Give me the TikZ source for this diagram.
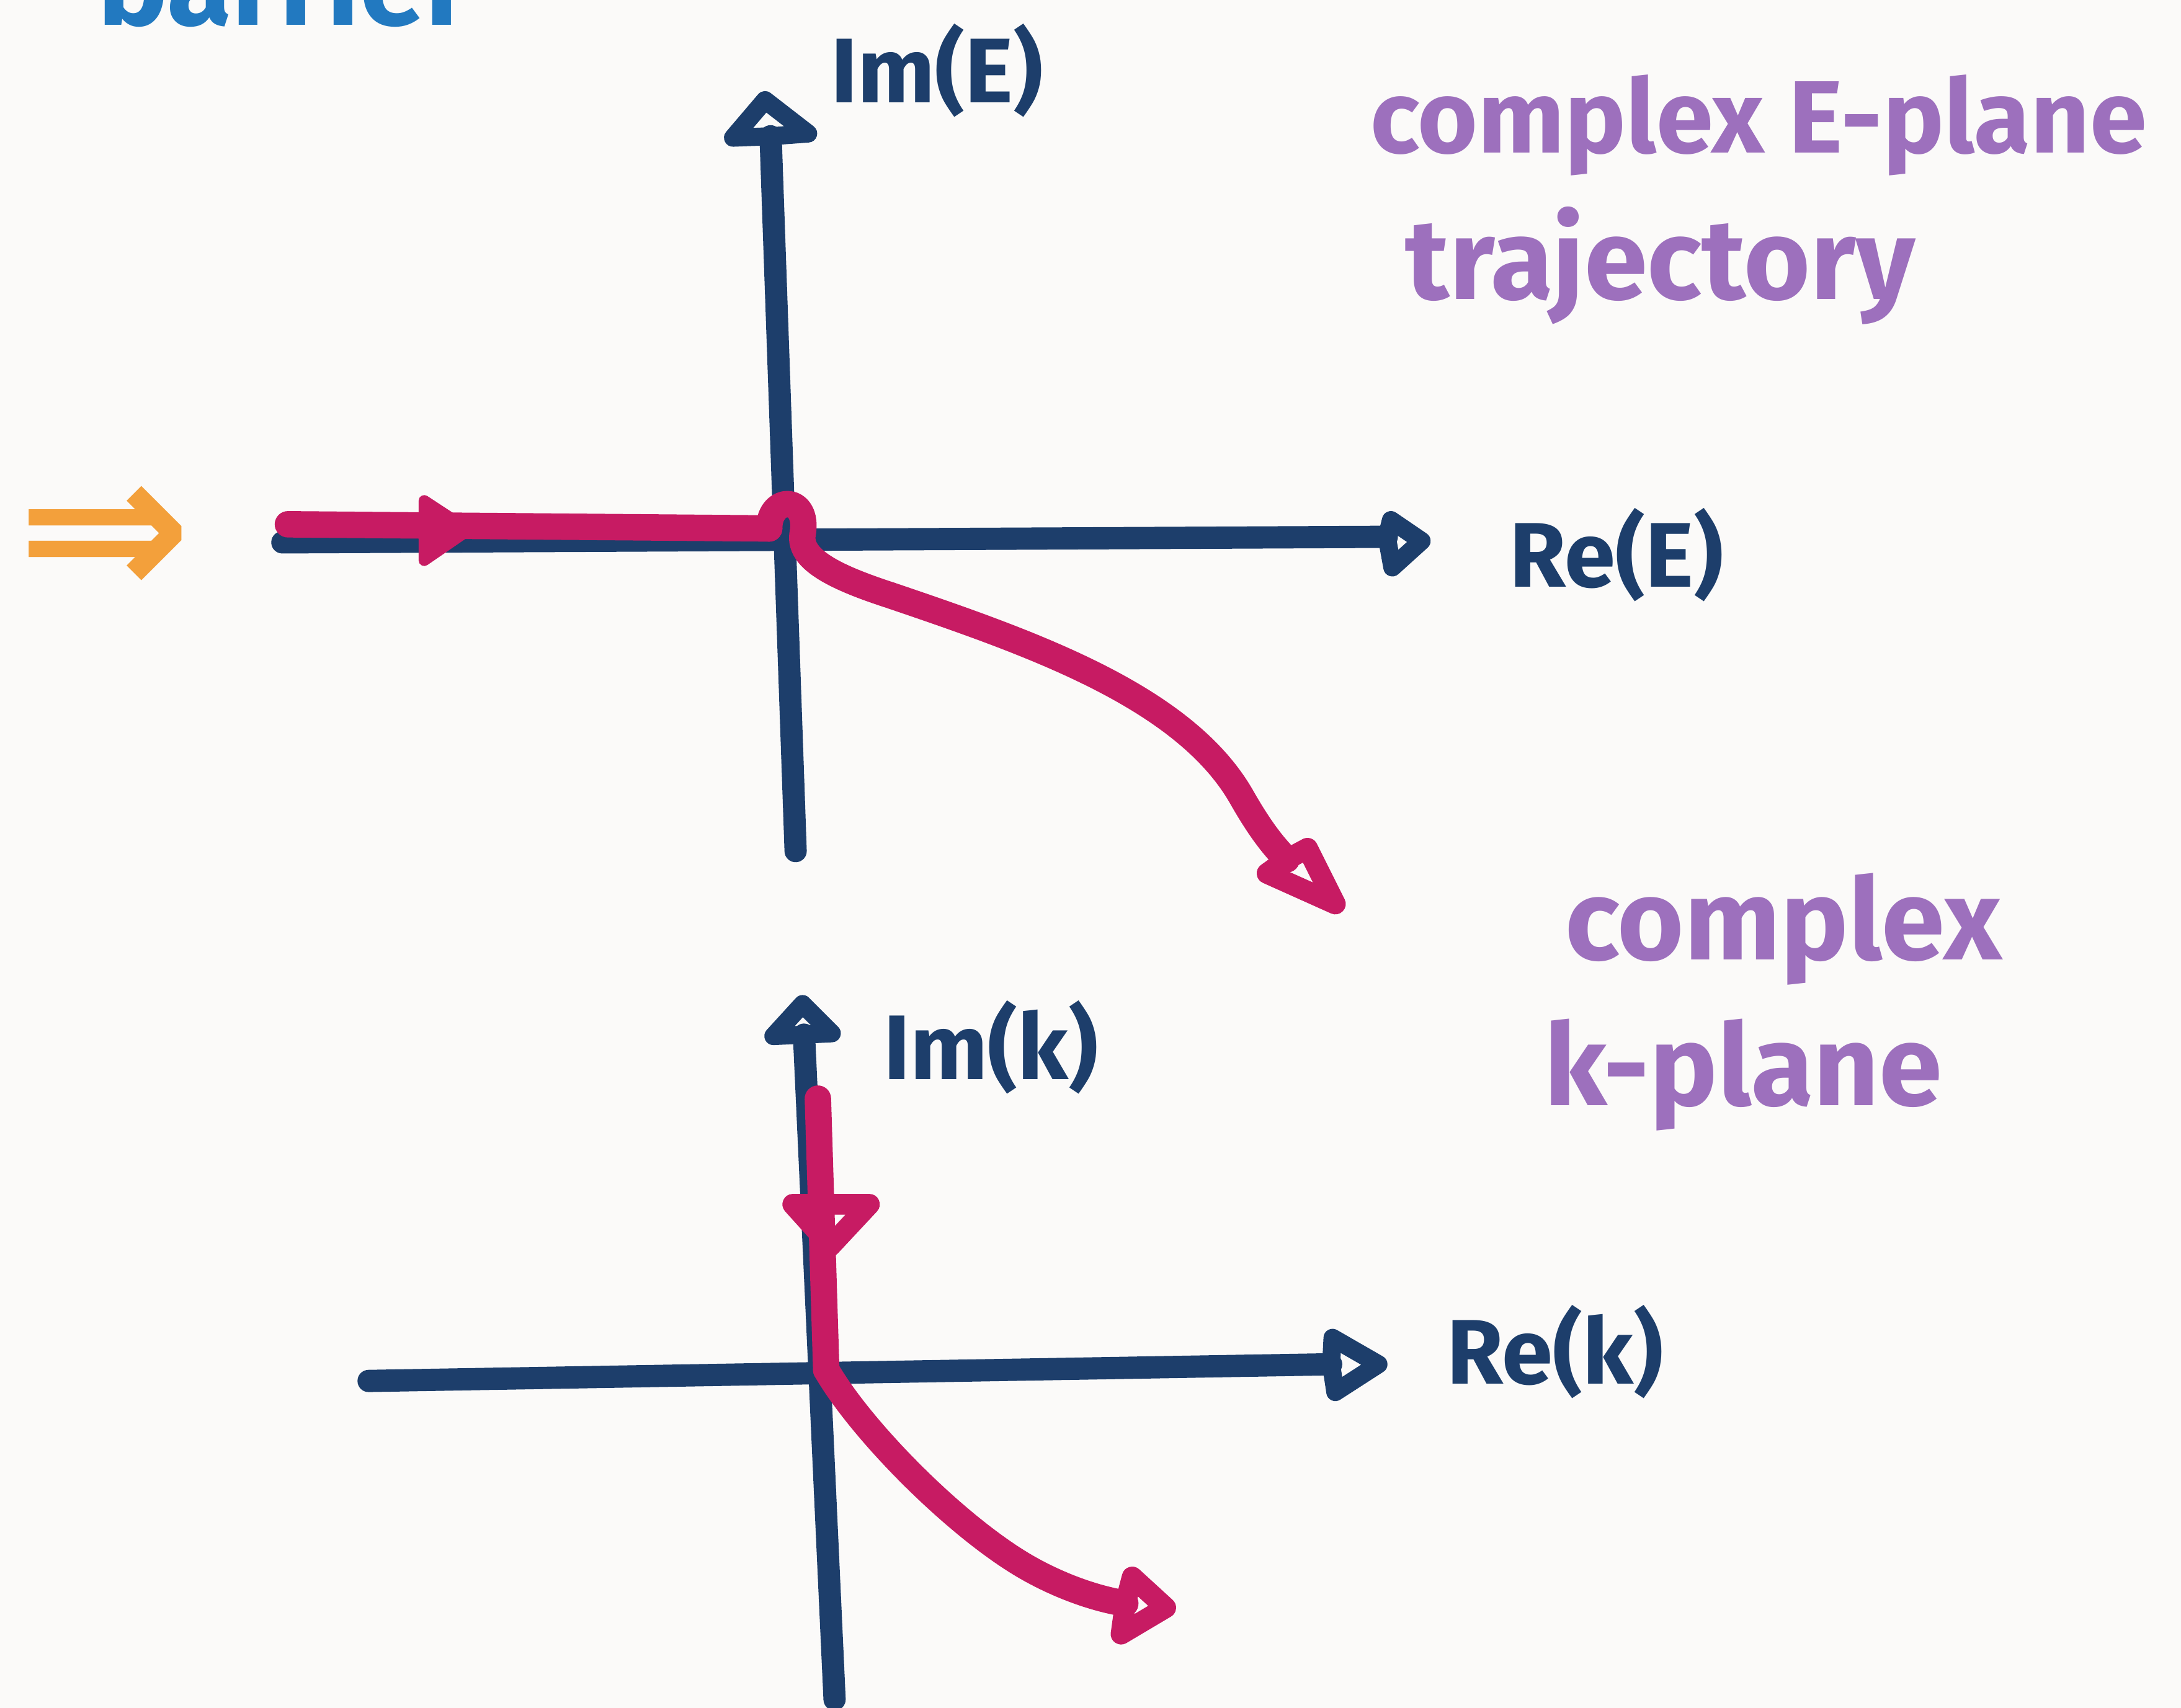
\documentclass[tikz,border=0pt]{standalone}
\usepackage{fontspec}
\setmainfont{Fira Sans}
\newfontfamily\symfont{DejaVu Sans}
\usetikzlibrary{arrows.meta, positioning}

\definecolor{navy}{HTML}{1D3E6B}
\definecolor{rasp}{HTML}{C71B63}
\definecolor{lilac}{HTML}{9D70BD}
\definecolor{amber}{HTML}{F3A03B}
\definecolor{sky}{HTML}{2279C0}
\definecolor{paper}{HTML}{FBFAF9}

\begin{document}
\begin{tikzpicture}[x=1pt, y=-1pt,
  axis/.style={draw=navy, line width=16pt, line cap=round, line join=round},
  traj/.style={draw=rasp, line width=19pt, line cap=round, line join=round},
  axhead/.style={draw=navy, line width=13pt, line join=round},
  trhead/.style={draw=rasp, line width=15pt, line join=round},
  axlabel/.style={text=navy, font=\fontsize{66}{66}\selectfont\bfseries, inner sep=0pt},
  note/.style={text=lilac, font=\fontsize{82}{82}\selectfont\bfseries, inner sep=0pt},
]
\useasboundingbox (0,0) rectangle (1568,1228);
\fill[paper] (0,0) rectangle (1568,1228);
\clip (0,0) rectangle (1568,1228);

% E-plane
\coordinate (eimb) at (572,612);
\coordinate (eimt) at (554,98);
\coordinate (erel) at (203,390);
\coordinate (erer) at (997,386);
\draw[axis] (eimb) -- (eimt);
\draw[axis] (erel) -- (erer);
\draw[axhead] (eimt) -- (527,99) -- (550,72) -- (581,96) -- cycle;
\draw[axhead] (erer) -- (1000,374) -- (1022,389) -- (1001,408) -- cycle;

\coordinate (estart) at (207,377);
\coordinate (eloop) at (553,380);
\coordinate (ehead) at (925,618);
\draw[traj] (estart) -- (eloop);
\fill[rasp, draw=rasp, line width=8pt, line join=round] (305,360) -- (337,381) -- (305,403) -- cycle;
\draw[traj] (eloop) .. controls (553,356) and (582,356) .. (577,384)
  .. controls (574,402) and (600,415) .. (640,428) .. controls (740,462) and (850,500) .. (892,572)
  .. controls (905,595) and (915,608) .. (ehead);
\draw[trhead] (ehead) -- (911,628) -- (960,650) -- (940,610) -- cycle;

% k-plane
\coordinate (kimb) at (600,1222);
\coordinate (kimt) at (578,744);
\coordinate (krel) at (265,993);
\coordinate (krer) at (957,981);
\draw[axis] (kimb) -- (kimt);
\draw[axis] (krel) -- (krer);
\draw[axhead] (kimt) -- (556,745) -- (577,722) -- (598,743) -- cycle;
\draw[axhead] (krer) -- (958,962) -- (991,981) -- (960,1001) -- cycle;

\coordinate (kstart) at (588,790);
\coordinate (korig) at (594,985);
\coordinate (khead) at (809,1153);
\draw[traj] (kstart) -- (korig);
\draw[trhead] (592,866) -- (570,866) -- (597,896) -- (625,866) -- cycle;
\draw[traj] (korig) .. controls (620,1030) and (690,1100) .. (740,1128)
  .. controls (765,1142) and (790,1150) .. (khead);
\draw[trhead] (khead) -- (814,1134) -- (838,1156) -- (806,1175) -- cycle;

% labels
\node[axlabel, anchor=base west] (imE) at (597,74) {Im(E)};
\node[axlabel, anchor=base west] (reE) at (1085,422) {Re(E)};
\node[axlabel, anchor=base west] (imk) at (635,776) {Im(k)};
\node[axlabel, anchor=base west] (rek) at (1040,995) {Re(k)};
\node[note, anchor=base west, font=\fontsize{74}{74}\selectfont\bfseries] (eplane) at (985,110) {complex E-plane};
\node[note, anchor=base west] (traject) at (1010,215) {trajectory};
\node[note, anchor=base west] (kcomplex) at (1125,690) {complex};
\node[note, anchor=base west] (kplane) at (1110,795) {k-plane};
\node[text=amber, font=\symfont\fontsize{150}{150}\selectfont\bfseries, inner sep=0pt, anchor=west] (implies) at (12,390) {⇒};
\node[text=sky, font=\fontsize{85}{85}\selectfont\bfseries, inner sep=0pt, anchor=base west] (barrier) at (70,18) {barrier};
\end{tikzpicture}
\end{document}
